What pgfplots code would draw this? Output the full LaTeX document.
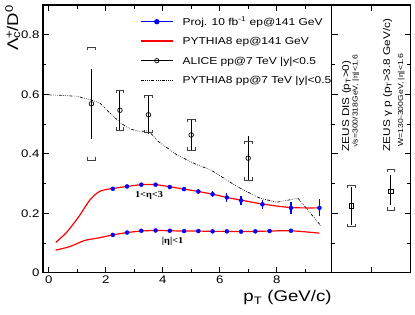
\documentclass[border=0pt]{standalone}
\usepackage{pgfplots}
\pgfplotsset{compat=1.18}
\usepackage{fontspec}
\setmainfont{Liberation Sans}[FakeStretch=1.2]
\newfontfamily\serifst{Liberation Serif}[FakeStretch=1.15]
\definecolor{rootred}{RGB}{255,0,0}
\definecolor{rootblue}{RGB}{0,0,255}

\pgfdeclareplotmark{brtop}{%
 \pgfpathmoveto{\pgfqpoint{-\pgfplotmarksize}{-0.7\pgfplotmarksize}}%
 \pgfpathlineto{\pgfqpoint{-\pgfplotmarksize}{0pt}}%
 \pgfpathlineto{\pgfqpoint{\pgfplotmarksize}{0pt}}%
 \pgfpathlineto{\pgfqpoint{\pgfplotmarksize}{-0.7\pgfplotmarksize}}%
 \pgfusepathqstroke}
\pgfdeclareplotmark{brbot}{%
 \pgfpathmoveto{\pgfqpoint{-\pgfplotmarksize}{0.7\pgfplotmarksize}}%
 \pgfpathlineto{\pgfqpoint{-\pgfplotmarksize}{0pt}}%
 \pgfpathlineto{\pgfqpoint{\pgfplotmarksize}{0pt}}%
 \pgfpathlineto{\pgfqpoint{\pgfplotmarksize}{0.7\pgfplotmarksize}}%
 \pgfusepathqstroke}

\tikzset{ddot/.style={dash pattern=on 3pt off 1.4pt on 0.6pt off 1.4pt on 0.6pt off 1.4pt on 0.6pt off 1.4pt}}

\pgfplotsset{
  common/.style={
    scale only axis,
    height=267.7pt,
    ymin=0, ymax=0.9,
    axis line style={line width=1.5pt},
    tick style={line width=0.8pt, black},
    tick align=inside,
    major tick length=6pt,
    minor tick length=3.5pt,
    /pgf/number format/assume math mode=true,
    tick label style={font=\fontsize{11}{13}\selectfont},
    clip=false,
  }
}

\begin{document}
\begin{tikzpicture}
\useasboundingbox (-43pt,-41.3pt) rectangle (372pt,272.7pt);
\begin{axis}[common,
  at={(0pt,0pt)}, anchor=south west,
  width=288.7pt,
  xmin=-0.2, xmax=9.93,
  xtick={0,2,4,6,8}, minor xtick={1,3,5,7,9},
  ytick={0,0.2,0.4,0.6,0.8}, minor ytick={0.1,0.3,0.5,0.7},
  xtick pos=both, ytick pos=left,
  xlabel={p\textsubscript{T} (GeV/c)},
  xlabel style={at={(rel axis cs:1,0)}, anchor=base east, yshift=-29pt, font=\fontsize{15.5}{18}\selectfont, inner sep=0pt},
  ylabel={Λ\rlap{\textsuperscript{+}}\textsubscript{c}/D\textsuperscript{0}},
  ylabel style={at={(axis description cs:-0.0866,1)}, anchor=base east, font=\fontsize{15.5}{18}\selectfont, inner sep=0pt},
  legend cell align=left,
  legend image code/.code={\draw[mark repeat=2,mark phase=2,#1] plot coordinates {(0pt,0pt) (16pt,0pt) (32pt,0pt)};},
  legend style={at={(rel axis cs:0.336,0.9554)}, anchor=north west, draw=none, fill=none,
    inner sep=0pt, outer sep=0pt, row sep=10pt, column sep=9pt,
    font=\fontsize{10}{12}\selectfont,
    nodes={inner sep=0pt, text height=8.5pt, text depth=1pt}},
]
\addlegendimage{color=rootblue, draw=rootblue, line width=1.3pt, mark=*, mark size=2pt}
\addlegendentry{Proj. 10 fb\textsuperscript{-1} ep@141 GeV}
\addlegendimage{color=rootred, draw=rootred, line width=1.6pt, mark=none}
\addlegendentry{PYTHIA8 ep@141 GeV}
\addlegendimage{color=black, line width=1pt, mark=o, mark size=2.2pt, mark options={fill=white, line width=0.7pt, solid}}
\addlegendentry{ALICE pp@7 TeV |y|<0.5}
\addlegendimage{color=black, line width=0.7pt, ddot, mark=none}
\addlegendentry{PYTHIA8 pp@7 TeV |y|<0.5}

% PYTHIA8 pp
\addplot[black, line width=0.7pt, ddot, forget plot] coordinates {
(0,0.598) (0.5,0.596) (1.0,0.593) (1.5,0.580) (1.8,0.570) (2.15,0.537) (2.5,0.505) (2.85,0.483) (3.2,0.475) (3.5,0.477) (3.85,0.441) (4.5,0.396) (5.2,0.363) (5.7,0.345) (6.6,0.290) (7.4,0.251) (8.0,0.237) (8.75,0.250) (9.55,0.158)
};
% PYTHIA8 ep, 1<eta<3
\addplot[rootred, line width=1.2pt, smooth, tension=0.5, forget plot] coordinates {
(0.25,0.102) (0.63,0.136) (1.06,0.189) (1.45,0.245) (1.8,0.274) (2.25,0.283) (2.75,0.290) (3.25,0.296) (3.75,0.296) (4.25,0.289) (4.75,0.281) (5.25,0.273) (5.75,0.264) (6.25,0.253) (6.75,0.244) (7.5,0.231) (8.5,0.219) (9.5,0.218)
};
% PYTHIA8 ep, |eta|<1
\addplot[rootred, line width=1.2pt, smooth, tension=0.5, forget plot] coordinates {
(0.25,0.076) (0.75,0.088) (1.25,0.108) (1.75,0.117) (2.25,0.127) (2.75,0.135) (3.25,0.140) (3.75,0.142) (4.25,0.141) (4.75,0.140) (5.25,0.140) (5.75,0.139) (6.25,0.139) (6.75,0.138) (7.25,0.139) (7.75,0.140) (8.5,0.141) (9.5,0.133)
};
% Projection, 1<eta<3
\addplot[rootblue, only marks, mark=*, mark size=2pt, forget plot,
  error bars/.cd, y dir=both, y explicit, error mark=none, error bar style={line width=1.3pt, rootblue}] coordinates {
(2.25,0.282) +- (0,0.004)
(2.75,0.290) +- (0,0.004)
(3.25,0.296) +- (0,0.005)
(3.75,0.296) +- (0,0.005)
(4.25,0.288) +- (0,0.006)
(4.75,0.281) +- (0,0.007)
(5.25,0.273) +- (0,0.008)
(5.75,0.264) +- (0,0.011)
(6.25,0.253) +- (0,0.014)
(6.75,0.243) +- (0,0.016)
(7.5,0.230) +- (0,0.016)
(8.5,0.218) +- (0,0.019)
(9.5,0.218) +- (0,0.029)
};
% Projection, |eta|<1
\addplot[rootblue, only marks, mark=*, mark size=2pt, forget plot,
  error bars/.cd, y dir=both, y explicit, error mark=none, error bar style={line width=1.3pt, rootblue}] coordinates {
(2.25,0.127) +- (0,0.002)
(2.75,0.135) +- (0,0.002)
(3.25,0.141) +- (0,0.002)
(3.75,0.142) +- (0,0.002)
(4.25,0.141) +- (0,0.002)
(4.75,0.140) +- (0,0.002)
(5.25,0.140) +- (0,0.002)
(5.75,0.139) +- (0,0.002)
(6.25,0.139) +- (0,0.002)
(6.75,0.138) +- (0,0.002)
(7.25,0.139) +- (0,0.002)
(7.75,0.140) +- (0,0.002)
(8.5,0.141) +- (0,0.002)
};
% ALICE systematic brackets
\addplot[black!75, only marks, mark=brtop, mark size=3.8pt, mark options={line width=0.8pt}, forget plot] coordinates {
(1.5,0.756) (2.5,0.612) (3.5,0.595) (5.0,0.514) (7.0,0.441)
};
\addplot[black!75, only marks, mark=brbot, mark size=3.8pt, mark options={line width=0.8pt}, forget plot] coordinates {
(1.5,0.379) (2.5,0.480) (3.5,0.472) (5.0,0.412) (7.0,0.312)
};
% ALICE data
\addplot[black, only marks, mark=o, mark size=2.3pt, mark options={fill=white, line width=0.7pt}, forget plot,
  error bars/.cd, y dir=both, y explicit, error mark=none, error bar style={line width=1pt, black}] coordinates {
(1.5,0.568) += (0,0.117) -= (0,0.119)
(2.5,0.546) += (0,0.069) -= (0,0.071)
(3.5,0.531) += (0,0.064) -= (0,0.064)
(5.0,0.463) += (0,0.051) -= (0,0.052)
(7.0,0.385) += (0,0.073) -= (0,0.075)
};
\node[font=\serifst\bfseries\fontsize{9}{11}\selectfont] at (axis cs:3.52,0.258) {1<η<3};
\node[font=\serifst\bfseries\fontsize{9}{11}\selectfont] at (axis cs:4.35,0.104) {|η|<1};
\end{axis}

\begin{axis}[common,
  at={(288.7pt,0pt)}, anchor=south west,
  width=79pt,
  xmin=0, xmax=2,
  xtick={1}, xticklabels={},
  ytick={0,0.2,0.4,0.6,0.8}, minor ytick={0.1,0.3,0.5,0.7},
  yticklabels={},
  xtick pos=both, ytick pos=both,
]
\addplot[black!75, only marks, mark=brtop, mark size=3.8pt, mark options={line width=0.8pt}] coordinates {
(0.5,0.295) (1.5,0.346)
};
\addplot[black!75, only marks, mark=brbot, mark size=3.8pt, mark options={line width=0.8pt}] coordinates {
(0.5,0.155) (1.5,0.211)
};
\addplot[black, only marks, mark=square, mark size=2.3pt, mark options={fill=white, line width=0.7pt},
  error bars/.cd, y dir=both, y explicit, error mark=none, error bar style={line width=1pt, black}] coordinates {
(0.5,0.2246) += (0,0.065) -= (0,0.064)
(1.5,0.273) += (0,0.056) -= (0,0.045)
};
\node[rotate=90, anchor=base west, inner sep=0pt, font=\fontsize{9.8}{12}\selectfont] at (axis cs:0.438,0.407) {ZEUS DIS (p\textsubscript{T}>0)};
\node[rotate=90, anchor=base west, inner sep=0pt, font=\fontsize{7.2}{9}\selectfont] at (axis cs:0.658,0.419) {√s=300/318GeV, |η|<1.6};
\node[rotate=90, anchor=base west, inner sep=0pt, font=\fontsize{9.8}{12}\selectfont] at (axis cs:1.476,0.407) {ZEUS γ p (p\textsubscript{T}>3.8 GeV/c)};
\node[rotate=90, anchor=base west, inner sep=0pt, font=\fontsize{7.2}{9}\selectfont] at (axis cs:1.81,0.424) {W=130-300GeV, |η|<1.6};
\end{axis}
\end{tikzpicture}
\end{document}
